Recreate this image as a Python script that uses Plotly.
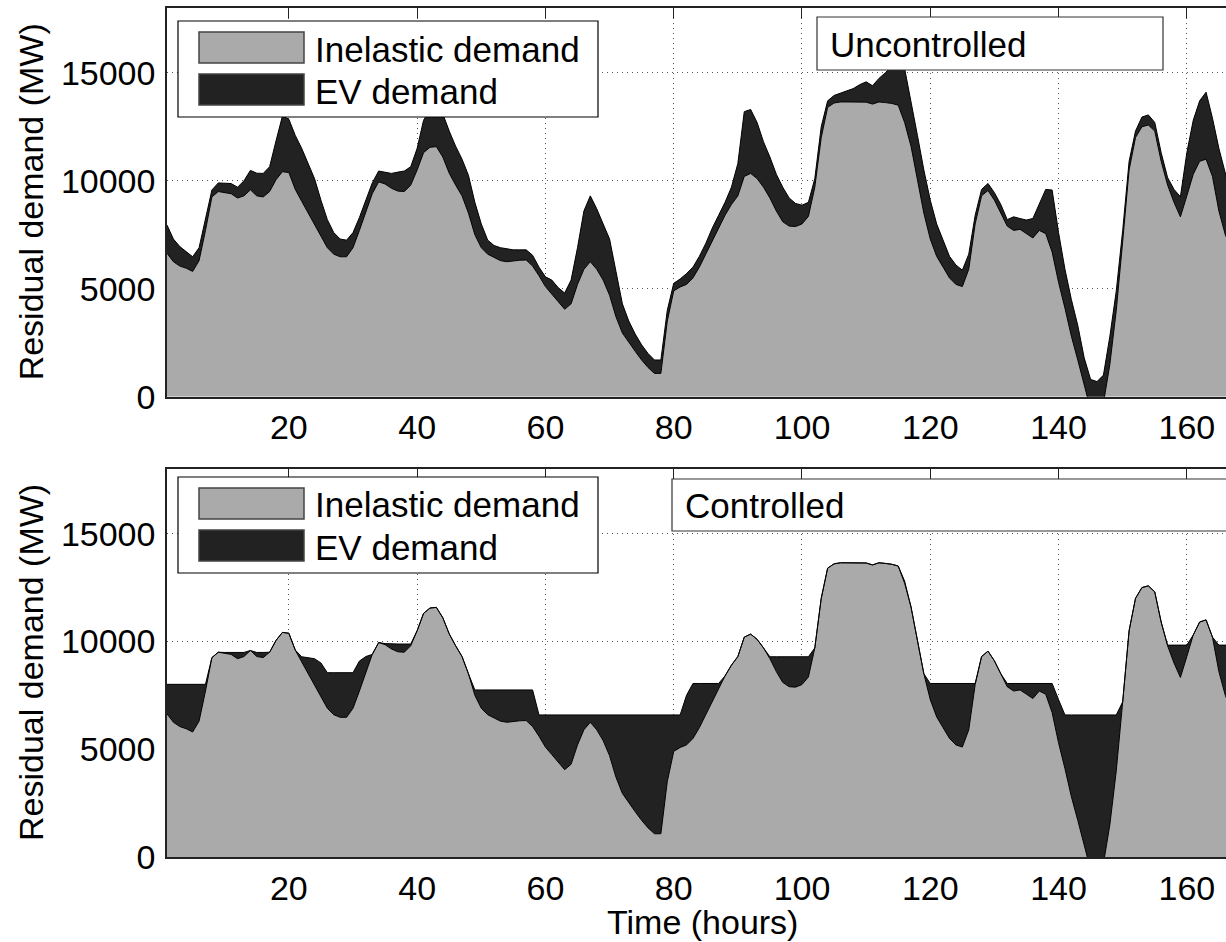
import plotly.graph_objects as go

hours = list(range(1, 169))

inelastic = [
    6640, 6250, 6050, 5950, 5800, 6300, 7700, 9250, 9500, 9450,
    9400, 9200, 9300, 9580, 9300, 9250, 9500, 10050, 10420, 10380,
    9600, 9050, 8500, 8000, 7400, 6900, 6600, 6480, 6480, 6900,
    7700, 8600, 9400, 9950, 9850, 9650, 9520, 9500, 9800, 10500,
    11300, 11550, 11580, 11100, 10350, 9800, 9300, 8500, 7500, 6900,
    6600, 6450, 6300, 6250, 6300, 6320, 6330, 6050, 5600, 5100,
    4750, 4400, 4050, 4300, 5200, 5900, 6250, 5900, 5400, 4700,
    3700, 2950, 2500, 2100, 1700, 1350, 1080, 1080, 3500, 4900,
    5080, 5200, 5500, 6000, 6600, 7200, 7800, 8400, 8900, 9300,
    10200, 10340, 10100, 9700, 9200, 8600, 8100, 7900, 7880, 8000,
    8350, 9700, 12000, 13400, 13600, 13650, 13650, 13650, 13660, 13640,
    13550, 13650, 13620, 13580, 13500, 12700, 11600, 10000, 8500, 7300,
    6500, 6000, 5500, 5200, 5100, 5900, 8000, 9300, 9550, 9100,
    8500, 7900, 7700, 7750, 7550, 7350, 7700, 7550, 6700, 5300,
    4100, 2800, 1700, 500, -600, -700, -300, 1500, 4000, 7200,
    10500, 12000, 12500, 12580, 12300, 10900, 9800, 9000, 8330, 9300,
    10300, 10900, 11000, 10200, 8600, 7500, 6800, 6500,
]

ev_uncontrolled = [
    1310, 1050, 900, 750, 680, 600, 600, 320, 400, 430,
    470, 500, 700, 900, 1050, 1090, 1150, 1800, 2580, 2470,
    2500, 2450, 2300, 2100, 1700, 1300, 1000, 820, 770, 700,
    600, 500, 500, 500, 550, 690, 880, 950, 850, 1000,
    1500, 1750, 2020, 2000, 1950, 1800, 1700, 1750, 1500, 1100,
    650, 550, 600, 600, 500, 480, 470, 500, 400, 450,
    650, 650, 750, 1100, 1700, 2700, 3050, 2800, 2600, 2600,
    2100, 1350, 1000, 800, 700, 650, 620, 620, 500, 350,
    370, 500, 500, 500, 500, 600, 600, 600, 800, 1500,
    3000, 2960, 2600, 2100, 1900, 1700, 1600, 1300, 1070, 870,
    650, 400, 500, 300, 350, 400, 500, 620, 790, 940,
    850, 1090, 1380, 1720, 2100, 2500, 2100, 2100, 2000, 1800,
    1500, 1250, 1000, 900, 760, 700, 400, 300, 325, 350,
    400, 300, 630, 500, 630, 905, 1250, 2050, 2870, 2300,
    1800, 1700, 1600, 1300, 1400, 1400, 1300, 1300, 900, 500,
    400, 300, 450, 470, 400, 400, 350, 600, 930, 2000,
    2500, 2800, 3100, 2700, 2900, 2800, 2400, 2000,
]

ev_controlled = [
    1370, 1760, 1960, 2060, 2210, 1710, 310, 0, 0, 40,
    90, 290, 190, 0, 190, 240, 0, 0, 0, 0,
    0, 240, 750, 1200, 1600, 1650, 1950, 2070, 2070, 1650,
    1390, 700, 0, 0, 50, 230, 360, 380, 80, 0,
    0, 0, 0, 0, 0, 0, 0, 0, 250, 850,
    1150, 1300, 1450, 1500, 1450, 1430, 1420, 1700, 990, 1490,
    1840, 2190, 2540, 2290, 1390, 690, 340, 690, 1190, 1890,
    2890, 3640, 4090, 4490, 4890, 5240, 5510, 5510, 3090, 1690,
    1510, 2300, 2550, 2050, 1450, 850, 250, 0, 0, 0,
    0, 0, 0, 0, 90, 690, 1190, 1390, 1410, 1290,
    940, 0, 0, 0, 0, 0, 0, 0, 0, 0,
    0, 0, 0, 0, 0, 100, 0, 0, 0, 750,
    1550, 2050, 2550, 2850, 2950, 2150, 50, 0, 0, 0,
    0, 150, 350, 300, 500, 700, 350, 500, 1350, 2000,
    2490, 3790, 4890, 6090, 7190, 7290, 6890, 5090, 2590, 0,
    0, 0, 0, 0, 0, 0, 30, 830, 1500, 530,
    0, 0, 0, 0, 1230, 2330, 3030, 3330,
]

x_ticks = [20, 40, 60, 80, 100, 120, 140, 160]
y_ticks = [0, 5000, 10000, 15000]
series_names = ["Inelastic demand", "EV demand"]
panel_titles = ["Uncontrolled", "Controlled"]
x_title = "Time (hours)"
y_title = "Residual demand (MW)"

GRAY = "#aaaaaa"
DARK = "#222222"
FONT = "Liberation Sans, Arial, Helvetica, sans-serif"
FS = 34
FS_LEG = 35

W, H = 1226, 942
ML, MR, MT, MB = 167, 0, 8, 85
PW = W - ML - MR
PH = H - MT - MB


def px(x):
    return (x - ML) / PW


def py(y):
    return (H - MB - y) / PH


fig = go.Figure()

panels = [
    ("x", "y", "x3", ev_uncontrolled, "g1"),
    ("x2", "y2", "x4", ev_controlled, "g2"),
]
for xa, ya, xtop, ev, grp in panels:
    fig.add_trace(go.Scatter(
        x=hours, y=inelastic, stackgroup=grp, mode="lines",
        line=dict(color="black", width=1), fillcolor=GRAY,
        name=series_names[0], showlegend=False, xaxis=xa, yaxis=ya,
    ))
    fig.add_trace(go.Scatter(
        x=hours, y=ev, stackgroup=grp, mode="lines",
        line=dict(color="black", width=1), fillcolor=DARK,
        name=series_names[1], showlegend=False, xaxis=xa, yaxis=ya,
    ))
    fig.add_trace(go.Scatter(
        x=[], y=[], xaxis=xtop, yaxis=ya, showlegend=False,
        hoverinfo="skip", mode="lines",
    ))

x_range = [1, 1 + PW / 6.414]

common_x = dict(
    range=x_range, tickvals=x_ticks, ticktext=[str(t) for t in x_ticks],
    tickfont=dict(family=FONT, size=FS, color="black"),
    showline=True, mirror=True, linecolor="#222222", linewidth=1.5,
    ticks="", showgrid=True, gridcolor="#555555", gridwidth=1,
    griddash="1px,4px", zeroline=False, ticklabelstandoff=0,
    automargin=False,
)
common_top = dict(
    range=x_range, tickvals=x_ticks, ticks="inside", ticklen=10,
    tickcolor="#222222", tickwidth=1.2, showticklabels=False,
    showgrid=False, zeroline=False, showline=False, side="top",
    automargin=False,
)
common_y = dict(
    range=[0, 18000], tickvals=y_ticks, ticktext=[str(t) for t in y_ticks],
    tickfont=dict(family=FONT, size=FS, color="black"),
    showline=True, mirror=False, linecolor="#222222", linewidth=1.5,
    ticks="", showgrid=True, gridcolor="#555555", gridwidth=1,
    griddash="1px,4px", zeroline=False, ticklabelstandoff=3,
    automargin=False,
)

top_dom = [py(396.7), 1.0]
bot_dom = [0.0, py(469)]

fig.update_layout(
    width=W, height=H,
    margin=dict(l=ML, r=MR, t=MT, b=MB, pad=0, autoexpand=False),
    paper_bgcolor="white", plot_bgcolor="white",
    font=dict(family=FONT, size=FS, color="black"),
    showlegend=False,
    xaxis=dict(anchor="y", domain=[0, 1], **common_x),
    xaxis2=dict(anchor="y2", domain=[0, 1], **common_x),
    xaxis3=dict(anchor="y", overlaying="x", **common_top),
    xaxis4=dict(anchor="y2", overlaying="x2", **common_top),
    yaxis=dict(anchor="x", domain=top_dom, **common_y),
    yaxis2=dict(anchor="x2", domain=bot_dom, **common_y),
)

shapes = []
annotations = []


def add_legend(top):
    shapes.append(dict(type="rect", xref="paper", yref="paper",
                       x0=px(178), x1=px(598), y0=py(top + 96), y1=py(top),
                       line=dict(color="black", width=1.2), fillcolor="white"))
    for i, col in enumerate([GRAY, DARK]):
        y0 = top + 11 + i * 42
        shapes.append(dict(type="rect", xref="paper", yref="paper",
                           x0=px(199), x1=px(304), y0=py(y0 + 31), y1=py(y0),
                           line=dict(color="#444444", width=1.5), fillcolor=col))
        annotations.append(dict(text=series_names[i], xref="paper", yref="paper",
                                x=px(313), y=py(y0 + 17), xanchor="left",
                                yanchor="middle", showarrow=False,
                                font=dict(family=FONT, size=FS_LEG, color="black")))


def add_title_box(x0, x1, top, bottom, text):
    shapes.append(dict(type="rect", xref="paper", yref="paper",
                       x0=px(x0), x1=px(x1), y0=py(bottom), y1=py(top),
                       line=dict(color="#333333", width=1.2), fillcolor="white"))
    annotations.append(dict(text=text, xref="paper", yref="paper",
                            x=px(x0 + 11), y=py((top + bottom) / 2 + 1),
                            xanchor="left", yanchor="middle", showarrow=False,
                            font=dict(family=FONT, size=FS_LEG, color="black")))


add_legend(21)
add_legend(477)
add_title_box(817, 1163, 17, 70, panel_titles[0])
add_title_box(672, 1260, 479, 531, panel_titles[1])

for cy in [(8 + 396.7) / 2, (469 + 857) / 2]:
    annotations.append(dict(text=y_title, xref="paper", yref="paper",
                            x=px(31), y=py(cy), textangle=-90,
                            xanchor="center", yanchor="middle", showarrow=False,
                            font=dict(family=FONT, size=FS, color="black")))

annotations.append(dict(text=x_title, xref="paper", yref="paper",
                        x=px(702.5), y=py(922), xanchor="center",
                        yanchor="middle", showarrow=False,
                        font=dict(family=FONT, size=FS, color="black")))

fig.update_layout(shapes=shapes, annotations=annotations)

# remove the page's default body margin so the figure fills the window exactly
fig.write_html(
    "out.html",
    config={"displayModeBar": False},
    post_script="document.body.style.margin='0';document.body.style.overflow='hidden';",
)
